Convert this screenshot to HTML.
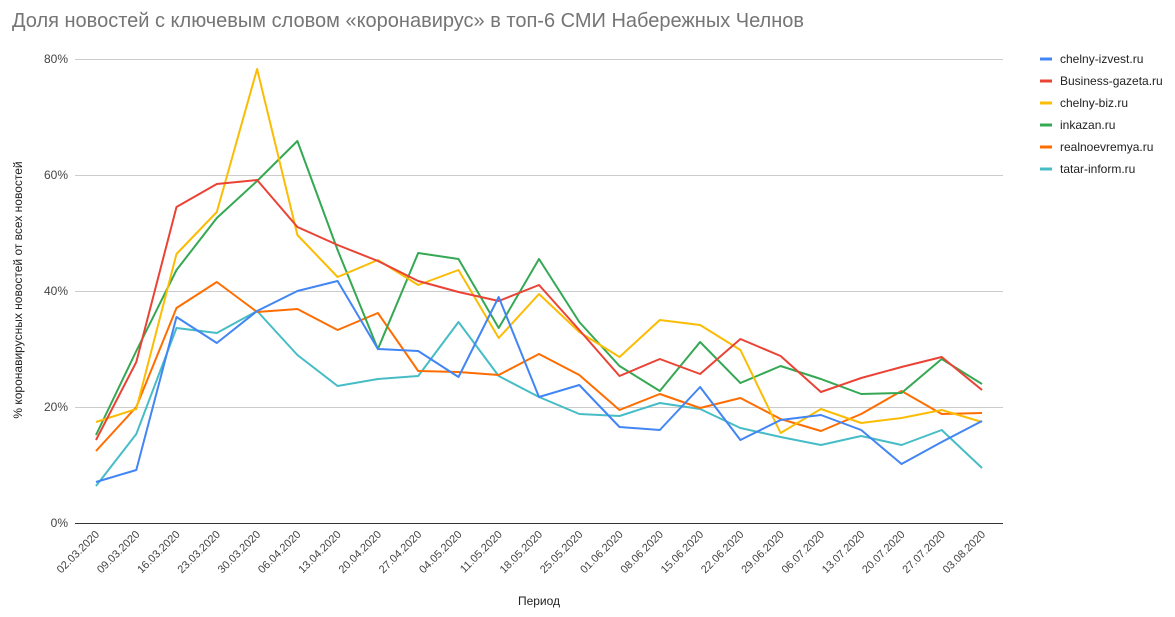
<!DOCTYPE html>
<html><head><meta charset="utf-8"><style>
body{margin:0;background:#fff;}
svg{display:block;font-family:"Liberation Sans",Arial,sans-serif;}
</style></head><body>
<svg width="1175" height="617" viewBox="0 0 1175 617">
<text x="12" y="27" font-size="20" fill="#757575">Доля новостей с ключевым словом «коронавирус» в топ-6 СМИ Набережных Челнов</text>
<g stroke="#ccc" stroke-width="1">
<line x1="75" x2="1003" y1="59.5" y2="59.5"/>
<line x1="75" x2="1003" y1="175.5" y2="175.5"/>
<line x1="75" x2="1003" y1="291.5" y2="291.5"/>
<line x1="75" x2="1003" y1="407.5" y2="407.5"/>
</g>
<line x1="75" x2="1003" y1="523.5" y2="523.5" stroke="#333"/>
<g font-size="12" fill="#444" text-anchor="end">
<text x="68" y="63">80%</text><text x="68" y="179">60%</text><text x="68" y="295">40%</text><text x="68" y="411">20%</text><text x="68" y="527">0%</text>
</g>
<text transform="translate(22,290) rotate(-90)" font-size="12" fill="#222" text-anchor="middle">% коронавирусных новостей от всех новостей</text>
<text x="539" y="605" font-size="12" fill="#222" text-anchor="middle">Период</text>
<g font-size="11" fill="#444" text-anchor="end" id="xl"></g>
<g fill="none" stroke-width="2" stroke-linejoin="round" id="ser"></g>
<g font-size="12" fill="#222" id="leg"></g>
</svg>
<script>
const xs=[],dates=["02.03.2020","09.03.2020","16.03.2020","23.03.2020","30.03.2020","06.04.2020","13.04.2020","20.04.2020","27.04.2020","04.05.2020","11.05.2020","18.05.2020","25.05.2020","01.06.2020","08.06.2020","15.06.2020","22.06.2020","29.06.2020","06.07.2020","13.07.2020","20.07.2020","27.07.2020","03.08.2020"];
for(let i=0;i<23;i++)xs.push(96+i*886/22);
const ns="http://www.w3.org/2000/svg";
const xl=document.getElementById('xl');
dates.forEach((d,i)=>{const t=document.createElementNS(ns,'text');t.setAttribute('transform',`translate(${xs[i]+4},${535}) rotate(-45)`);t.textContent=d;xl.appendChild(t);});
const S=[
["tatar-inform.ru","#46bdc6",[486,434,328,333,311,355,386,379,376,322,376,397,414,416,403,409,428,437,445,436,445,430,468]],
["realnoevremya.ru","#ff6d01",[451,407,308,282,312,309,330,313,371,372,375,354,375,410,394,408,398,419,431,414,391,414,413]],
["inkazan.ru","#34a853",[435,351,270,218,181,141,250,349,253,259,328,259,322,366,391,342,383,366,379,394,393,359,384]],
["chelny-biz.ru","#fbbc04",[422,409,254,212,69,235,277,260,285,270,338,294,332,357,320,325,350,433,409,423,418,410,422]],
["Business-gazeta.ru","#ea4335",[440,362,207,184,180,227,245,261,281,292,301,285,330,376,359,374,339,356,392,378,367,357,390]],
["chelny-izvest.ru","#4285f4",[482,470,317,343,311,291,281,349,351,377,297,397,385,427,430,387,440,420,415,430,464,442,421]]];
const g=document.getElementById('ser');
S.forEach(s=>{const p=document.createElementNS(ns,'polyline');p.setAttribute('points',s[2].map((y,i)=>xs[i].toFixed(1)+','+y).join(' '));p.setAttribute('stroke',s[1]);g.appendChild(p);});
const L=document.getElementById('leg');
S.slice().reverse().forEach((s,i)=>{const y=59+i*22;
const r=document.createElementNS(ns,'line');r.setAttribute('x1',1040);r.setAttribute('x2',1052);r.setAttribute('y1',y);r.setAttribute('y2',y);r.setAttribute('stroke',s[1]);r.setAttribute('stroke-width',3);L.appendChild(r);
const t=document.createElementNS(ns,'text');t.setAttribute('x',1060);t.setAttribute('y',y+4);t.textContent=s[0];L.appendChild(t);});
</script>
</body></html>
